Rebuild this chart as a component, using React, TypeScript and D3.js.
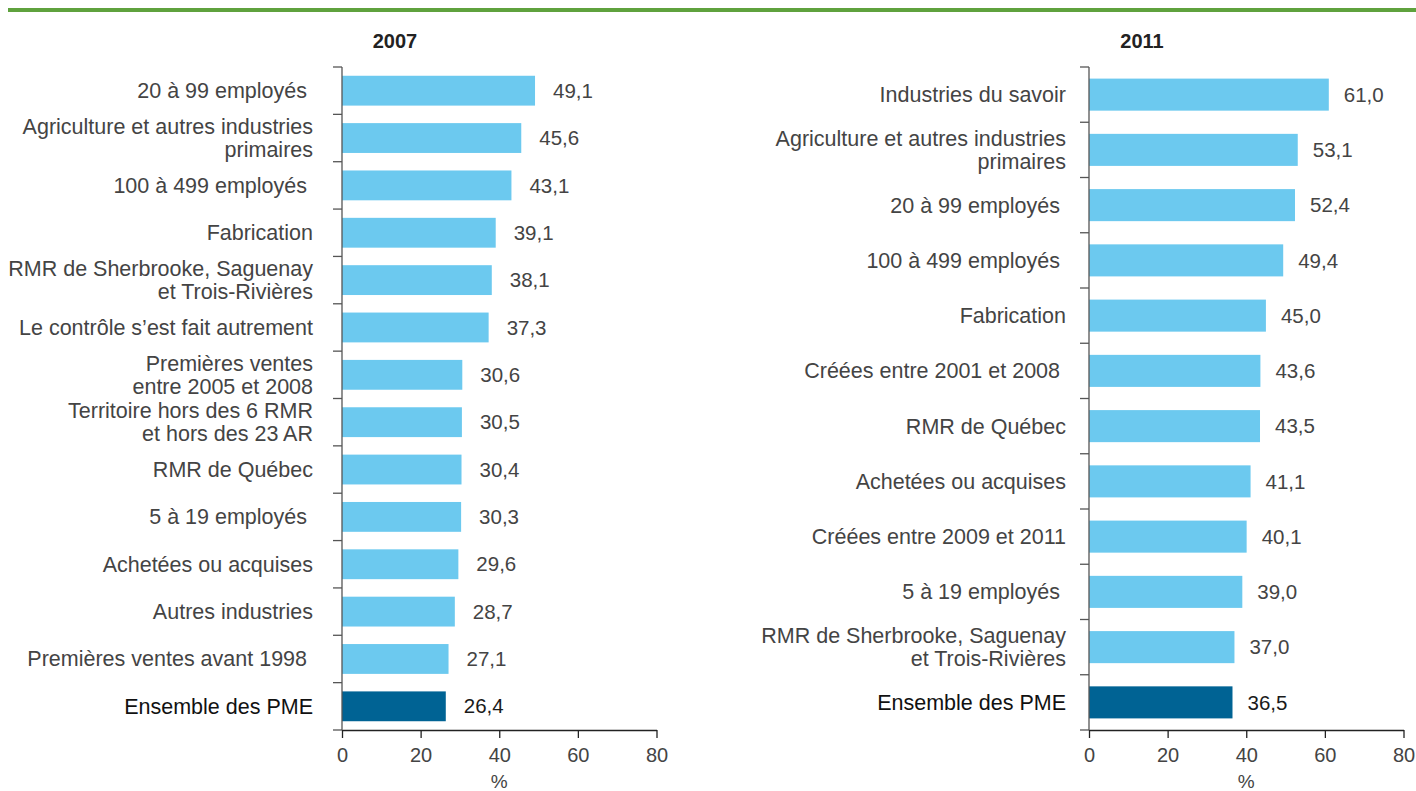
import React, { useEffect, useRef } from 'react';
import * as d3 from 'd3';

// 2007 panel
const categories2007 = [
  '20 à 99 employés\u00a0',
  'Agriculture et autres industries\nprimaires',
  '100 à 499 employés\u00a0',
  'Fabrication',
  'RMR de Sherbrooke, Saguenay\net Trois-Rivières',
  'Le contrôle s\u2019est fait autrement',
  'Premières ventes\nentre 2005 et 2008',
  'Territoire hors des 6 RMR\net hors des 23 AR',
  'RMR de Québec',
  '5 à 19 employés\u00a0',
  'Achetées ou acquises',
  'Autres industries',
  'Premières ventes avant 1998\u00a0',
  'Ensemble des PME',
];
const values2007 = [49.1, 45.6, 43.1, 39.1, 38.1, 37.3, 30.6, 30.5, 30.4, 30.3, 29.6, 28.7, 27.1, 26.4];

// 2011 panel
const categories2011 = [
  'Industries du savoir',
  'Agriculture et autres industries\nprimaires',
  '20 à 99 employés\u00a0',
  '100 à 499 employés\u00a0',
  'Fabrication',
  'Créées entre 2001 et 2008\u00a0',
  'RMR de Québec',
  'Achetées ou acquises',
  'Créées entre 2009 et 2011',
  '5 à 19 employés\u00a0',
  'RMR de Sherbrooke, Saguenay\net Trois-Rivières',
  'Ensemble des PME',
];
const values2011 = [61.0, 53.1, 52.4, 49.4, 45.0, 43.6, 43.5, 41.1, 40.1, 39.0, 37.0, 36.5];

const xTicks = [0, 20, 40, 60, 80];
const totalLabel = 'Ensemble des PME';

const FONT = '"Liberation Sans", Arial, sans-serif';
const LIGHT = '#6cc9ef';
const DARK = '#006394';
const TEXT = '#444';

interface Panel {
  title: string;
  cats: string[];
  vals: number[];
  left: number;
  pad: number;
  labelGap: number;
  valueGap: number;
}

const App = () => {
  const ref = useRef<SVGSVGElement>(null);

  useEffect(() => {
    const svg = d3.select(ref.current);
    svg.selectAll('*').remove();

    // top green rule
    svg.append('rect')
      .attr('x', 8).attr('y', 8).attr('width', 1408).attr('height', 4)
      .attr('fill', '#5fa23d');

    const panels: Panel[] = [
      { title: '2007', cats: categories2007, vals: values2007, left: 342, pad: 0.37, labelGap: 29, valueGap: 18 },
      { title: '2011', cats: categories2011, vals: values2011, left: 1089, pad: 0.42, labelGap: 23, valueGap: 15 },
    ];

    const top = 67;
    const bottom = 730;

    panels.forEach(p => {
      const x = d3.scaleLinear().domain([0, 80]).range([p.left, p.left + 314.5]);
      const y = d3.scaleBand<string>()
        .domain(p.cats)
        .range([top, bottom])
        .paddingInner(p.pad)
        .paddingOuter(p.pad / 2);

      const g = svg.append('g');

      // title
      g.append('text')
        .attr('x', p.left + 53)
        .attr('y', 48)
        .attr('text-anchor', 'middle')
        .attr('font-family', FONT)
        .attr('font-weight', 'bold')
        .attr('font-size', 20)
        .attr('fill', '#222')
        .text(p.title);

      // bars
      g.selectAll('.bar')
        .data(p.cats)
        .join('rect')
        .attr('class', 'bar')
        .attr('x', x(0))
        .attr('y', d => y(d) as number)
        .attr('width', (d, i) => x(p.vals[i]) - x(0))
        .attr('height', y.bandwidth())
        .attr('fill', d => (d === totalLabel ? DARK : LIGHT));

      // value labels
      g.selectAll('.val')
        .data(p.cats)
        .join('text')
        .attr('class', 'val')
        .attr('x', (d, i) => x(p.vals[i]) + p.valueGap)
        .attr('y', d => (y(d) as number) + y.bandwidth() / 2)
        .attr('dy', '0.35em')
        .attr('font-family', FONT)
        .attr('font-size', 20.5)
        .attr('fill', d => (d === totalLabel ? '#1a1a1a' : TEXT))
        .text((d, i) => d3.format('.1f')(p.vals[i]).replace('.', ','));

      // category labels
      const lineH = 23;
      g.selectAll('.cat')
        .data(p.cats)
        .join('text')
        .attr('class', 'cat')
        .attr('text-anchor', 'end')
        .attr('font-family', FONT)
        .attr('font-size', 21.5)
        .attr('fill', d => (d === totalLabel ? '#111' : TEXT))
        .each(function (d) {
          const lines = d.split('\n');
          const cy = (y(d) as number) + y.bandwidth() / 2;
          const t = d3.select(this);
          lines.forEach((ln, k) => {
            t.append('tspan')
              .attr('x', p.left - p.labelGap)
              .attr('y', cy + (k - (lines.length - 1) / 2) * lineH)
              .attr('dy', '0.35em')
              .text(ln);
          });
        });

      // y axis line + ticks at band boundaries
      const step = y.step();
      const bounds = d3.range(p.cats.length + 1).map(i => top + i * step);
      g.append('line')
        .attr('x1', p.left).attr('x2', p.left)
        .attr('y1', top).attr('y2', bottom)
        .attr('stroke', '#555').attr('stroke-width', 1.3);
      g.selectAll('.ytick')
        .data(bounds)
        .join('line')
        .attr('class', 'ytick')
        .attr('x1', p.left - 9).attr('x2', p.left)
        .attr('y1', d => d).attr('y2', d => d)
        .attr('stroke', '#555').attr('stroke-width', 1.3);

      // x axis
      const xa = g.append('g')
        .attr('transform', `translate(0,${bottom})`)
        .call(d3.axisBottom(x).tickValues(xTicks).tickSize(8).tickSizeOuter(0).tickPadding(10));
      xa.select('.domain').attr('stroke', '#222').attr('stroke-width', 1.3);
      xa.selectAll('line').attr('stroke', '#222').attr('stroke-width', 1.3);
      xa.selectAll('text')
        .attr('font-family', FONT)
        .attr('font-size', 20)
        .attr('fill', TEXT);

      g.append('text')
        .attr('x', x(40))
        .attr('y', 788)
        .attr('text-anchor', 'middle')
        .attr('font-family', FONT)
        .attr('font-size', 19)
        .attr('fill', TEXT)
        .text('%');
    });
  }, []);

  return (
    <svg
      ref={ref}
      width={1416}
      height={791}
      style={{ position: 'absolute', left: 0, top: 0, background: '#fff' }}
    />
  );
};

export default App;
